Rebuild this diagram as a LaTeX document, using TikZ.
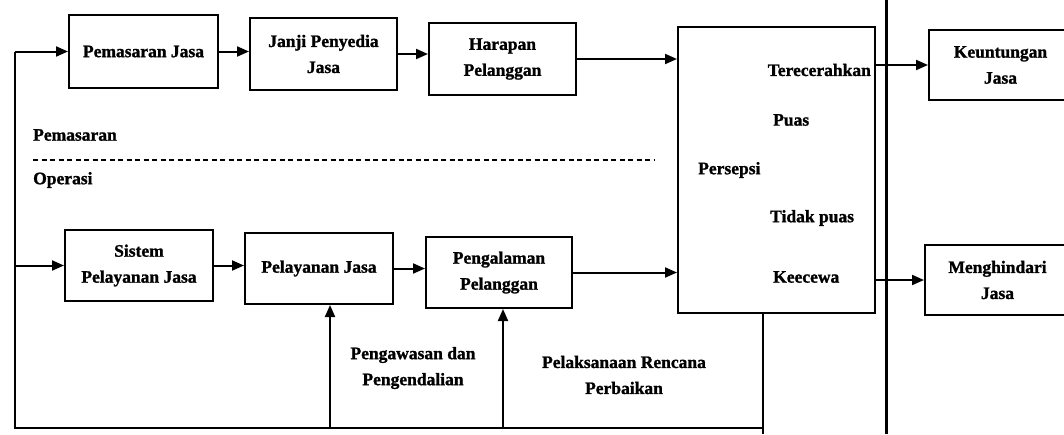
\documentclass[tikz,border=0pt]{standalone}
\usepackage{fontspec}
\setmainfont[BoldFeatures={FakeBold=1.3}]{Liberation Serif}
\usetikzlibrary{arrows.meta}
\begin{document}
\begin{tikzpicture}[x=1pt,y=-1pt,
  font=\bfseries\fontsize{17.5}{26}\selectfont,
  box/.style={draw,line width=2pt,align=center,inner sep=0pt},
  wire/.style={line width=2pt},
  arr/.style={line width=2pt,-{Triangle[length=12pt,width=10pt]}},
  txt/.style={inner sep=0pt,anchor=west}]
\useasboundingbox (0,0) rectangle (1064,434);
\clip (0,0) rectangle (1064,434);

% upper (marketing) row
\node[box,minimum width=149pt,minimum height=73pt] (pj)  at (143.5,51.5) {Pemasaran Jasa};
\node[box,minimum width=147pt,minimum height=72pt] (jpj) at (323.5,54) {Janji Penyedia\\Jasa};
\node[box,minimum width=147pt,minimum height=72pt] (hp)  at (502.5,59) {Harapan\\Pelanggan};

% lower (operations) row
\node[box,minimum width=148pt,minimum height=71pt] (spj) at (139,265.5) {Sistem\\Pelayanan Jasa};
\node[box,minimum width=148pt,minimum height=71pt] (pel) at (319,268.5) {Pelayanan Jasa};
\node[box,minimum width=146pt,minimum height=71pt] (pp)  at (499,272.5) {Pengalaman\\Pelanggan};

% perception box and its outcomes
\node[box,minimum width=197pt,minimum height=286pt] (per) at (776.5,170) {};
\node[inner sep=0pt,anchor=east] (t1) at (871,70) {Terecerahkan};
\node[txt] (t2) at (773,120) {Puas};
\node[txt] (t3) at (698,170) {Persepsi};
\node[txt] (t4) at (770,218) {Tidak puas};
\node[txt] (t5) at (773,277) {Keecewa};

\node[box,minimum width=143pt,minimum height=70pt] (kj) at (1000.5,65) {Keuntungan\\Jasa};
\node[box,minimum width=145pt,minimum height=70pt] (mj) at (997.5,280) {Menghindari\\Jasa};

% section labels and divider
\node[txt] (lm) at (33,135) {Pemasaran};
\node[txt] (lo) at (33,180) {Operasi};
\coordinate (d1) at (33,160);
\coordinate (d2) at (655,160);
\draw[line width=1.5pt,dash pattern=on 5pt off 3.5pt] (d1) -- (d2);

\coordinate (sepT) at (886,0);
\coordinate (sepB) at (886,434);
\draw[line width=3pt] (sepT) -- (sepB);

% forward flow
\draw[arr] (pj.east) -- (pj.east -| jpj.west);
\draw[arr] (jpj.east) -- (jpj.east -| hp.west);
\draw[arr] (hp.east) -- (hp.east -| per.west);
\draw[arr] (spj.east) -- (spj.east -| pel.west);
\draw[arr] (pel.east) -- (pel.east -| pp.west);
\draw[arr] (pp.east) -- (pp.east -| per.west);
\draw[arr] (per.east |- kj.west) -- (kj.west);
\draw[arr] (per.east |- mj.west) -- (mj.west);

% feedback loop
\coordinate (base) at (0,428);
\coordinate (lx) at (15,0);
\coordinate (u1) at (330,428);
\coordinate (u2) at (503,428);
\coordinate (pb) at (763,434);
\draw[wire] (per.south -| pb) -- (pb);
\draw[wire] (pb |- base) -- (lx |- base) -- (lx |- pj.west);
\draw[arr] (lx |- pj.west) -- (pj.west);
\draw[arr] (lx |- spj.west) -- (spj.west);
\draw[arr] (u1) -- (u1 |- pel.south);
\draw[arr] (u2) -- (u2 |- pp.south);

\node[align=center,inner sep=0pt] (pk) at (413,368) {Pengawasan dan\\Pengendalian};
\node[align=center,inner sep=0pt] (pr) at (624,375) {Pelaksanaan Rencana\\Perbaikan};
\end{tikzpicture}
\end{document}
